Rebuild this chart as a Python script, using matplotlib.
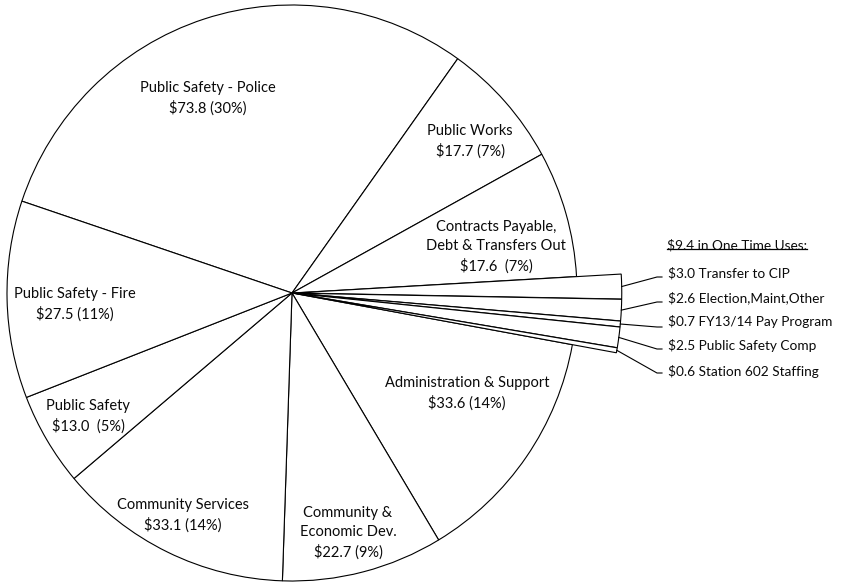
import matplotlib
matplotlib.use("Agg")
import matplotlib.pyplot as plt
import numpy as np

# ---------------- data ----------------
categories = ["Public Safety - Police", "Public Works",
              "Contracts Payable,\nDebt & Transfers Out",
              "Transfer to CIP", "Election,Maint,Other", "FY13/14 Pay Program",
              "Public Safety Comp", "Station 602 Staffing",
              "Administration & Support", "Community &\nEconomic Dev.",
              "Community Services", "Public Safety", "Public Safety - Fire"]
values = [73.8, 17.7, 17.6, 3.0, 2.6, 0.7, 2.5, 0.6, 33.6, 22.7, 33.1, 13.0, 27.5]
percent_labels = ["30%", "7%", "7%", None, None, None, None, None,
                  "14%", "9%", "14%", "5%", "11%"]
one_time = [False, False, False, True, True, True, True, True,
            False, False, False, False, False]
one_time_total = 9.4
one_time_title = "$9.4 in One Time Uses:"

# ---------------- layout ----------------
W, H = 843, 583
cx, cy = 292, 293
sx, sy = 285, 288
FONT = ["Lato", "DejaVu Sans"]
FS = 10.5
FS_SIDE = 9.8
TXT = "#0a0a0a"

def px(x, y):
    return ((x - cx) / sx, (cy - y) / sy)

fig = plt.figure(figsize=(W / 100, H / 100), dpi=100)
ax = fig.add_axes([0, 0, 1, 1])

edge = dict(edgecolor="black", linewidth=0.8)
wedges_main, _ = ax.pie(values, startangle=161.4, counterclock=False,
                        radius=1.0, colors=["white"] * len(values),
                        wedgeprops=edge)
for w, ot in zip(wedges_main, one_time):
    if ot:
        w.set_visible(False)

explode = [0.012 if ot else 0 for ot in one_time]
wedges_out, _ = ax.pie(values, startangle=161.4, counterclock=False,
                       radius=1.145, explode=explode,
                       colors=["white"] * len(values), wedgeprops=edge)
for w, ot in zip(wedges_out, one_time):
    if not ot:
        w.set_visible(False)
    else:
        w.set_zorder(3)

# labels for main slices (pixel positions of text centers)
label_pos = {0: (208, 98), 1: (470, 141), 2: (496, 247), 8: (467, 393),
             9: (348, 533), 10: (183, 515), 11: (88, 416), 12: (75, 304)}
double_space = {2, 11}
for i, (xp, yp) in label_pos.items():
    sep = "  " if i in double_space else " "
    txt = f"{categories[i]}\n${values[i]:.1f}{sep}({percent_labels[i]})"
    x, y = px(xp, yp)
    ax.text(x, y, txt, ha="center", va="center", fontsize=FS,
            family=FONT, linespacing=1.42, color=TXT)

# one-time use labels
ot_idx = [i for i, ot in enumerate(one_time) if ot]
ot_text_y = [273, 298, 322, 346, 372]
ot_anchor_y = [277, 302, 327, 349, 373]
text_x = 668
for k, i in enumerate(ot_idx):
    w = wedges_out[i]
    th = np.deg2rad((w.theta1 + w.theta2) / 2)
    cxw, cyw = w.center
    r = w.r
    ex, ey = cxw + r * np.cos(th), cyw + r * np.sin(th)
    ax1, ay1 = px(657, ot_anchor_y[k])
    ax2, ay2 = px(662, ot_anchor_y[k])
    ax.plot([ex, ax1, ax2], [ey, ay1, ay2], color="black", lw=0.8, zorder=4)
    x, y = px(text_x, ot_text_y[k])
    ax.text(x, y, f"${values[i]:.1f} {categories[i]}", ha="left", va="center",
            fontsize=FS_SIDE, family=FONT, color=TXT)

tx, ty = px(667, 245)
title = ax.text(tx, ty, one_time_title, ha="left", va="center",
                fontsize=FS_SIDE, family=FONT, color=TXT)

ax.set_xlim(-cx / sx, (W - cx) / sx)
ax.set_ylim(-(H - cy) / sy, cy / sy)
ax.set_aspect("auto")
ax.axis("off")

# underline for the title
fig.canvas.draw()
bb = title.get_window_extent(renderer=fig.canvas.get_renderer())
inv = ax.transData.inverted()
(x0, y0) = inv.transform((bb.x0, bb.y0 + 2.5))
(x1, _) = inv.transform((bb.x1, bb.y0 + 2.5))
ax.plot([x0, x1], [y0, y0], color="black", lw=0.9)

fig.savefig("out.png", dpi=100, facecolor="white")
